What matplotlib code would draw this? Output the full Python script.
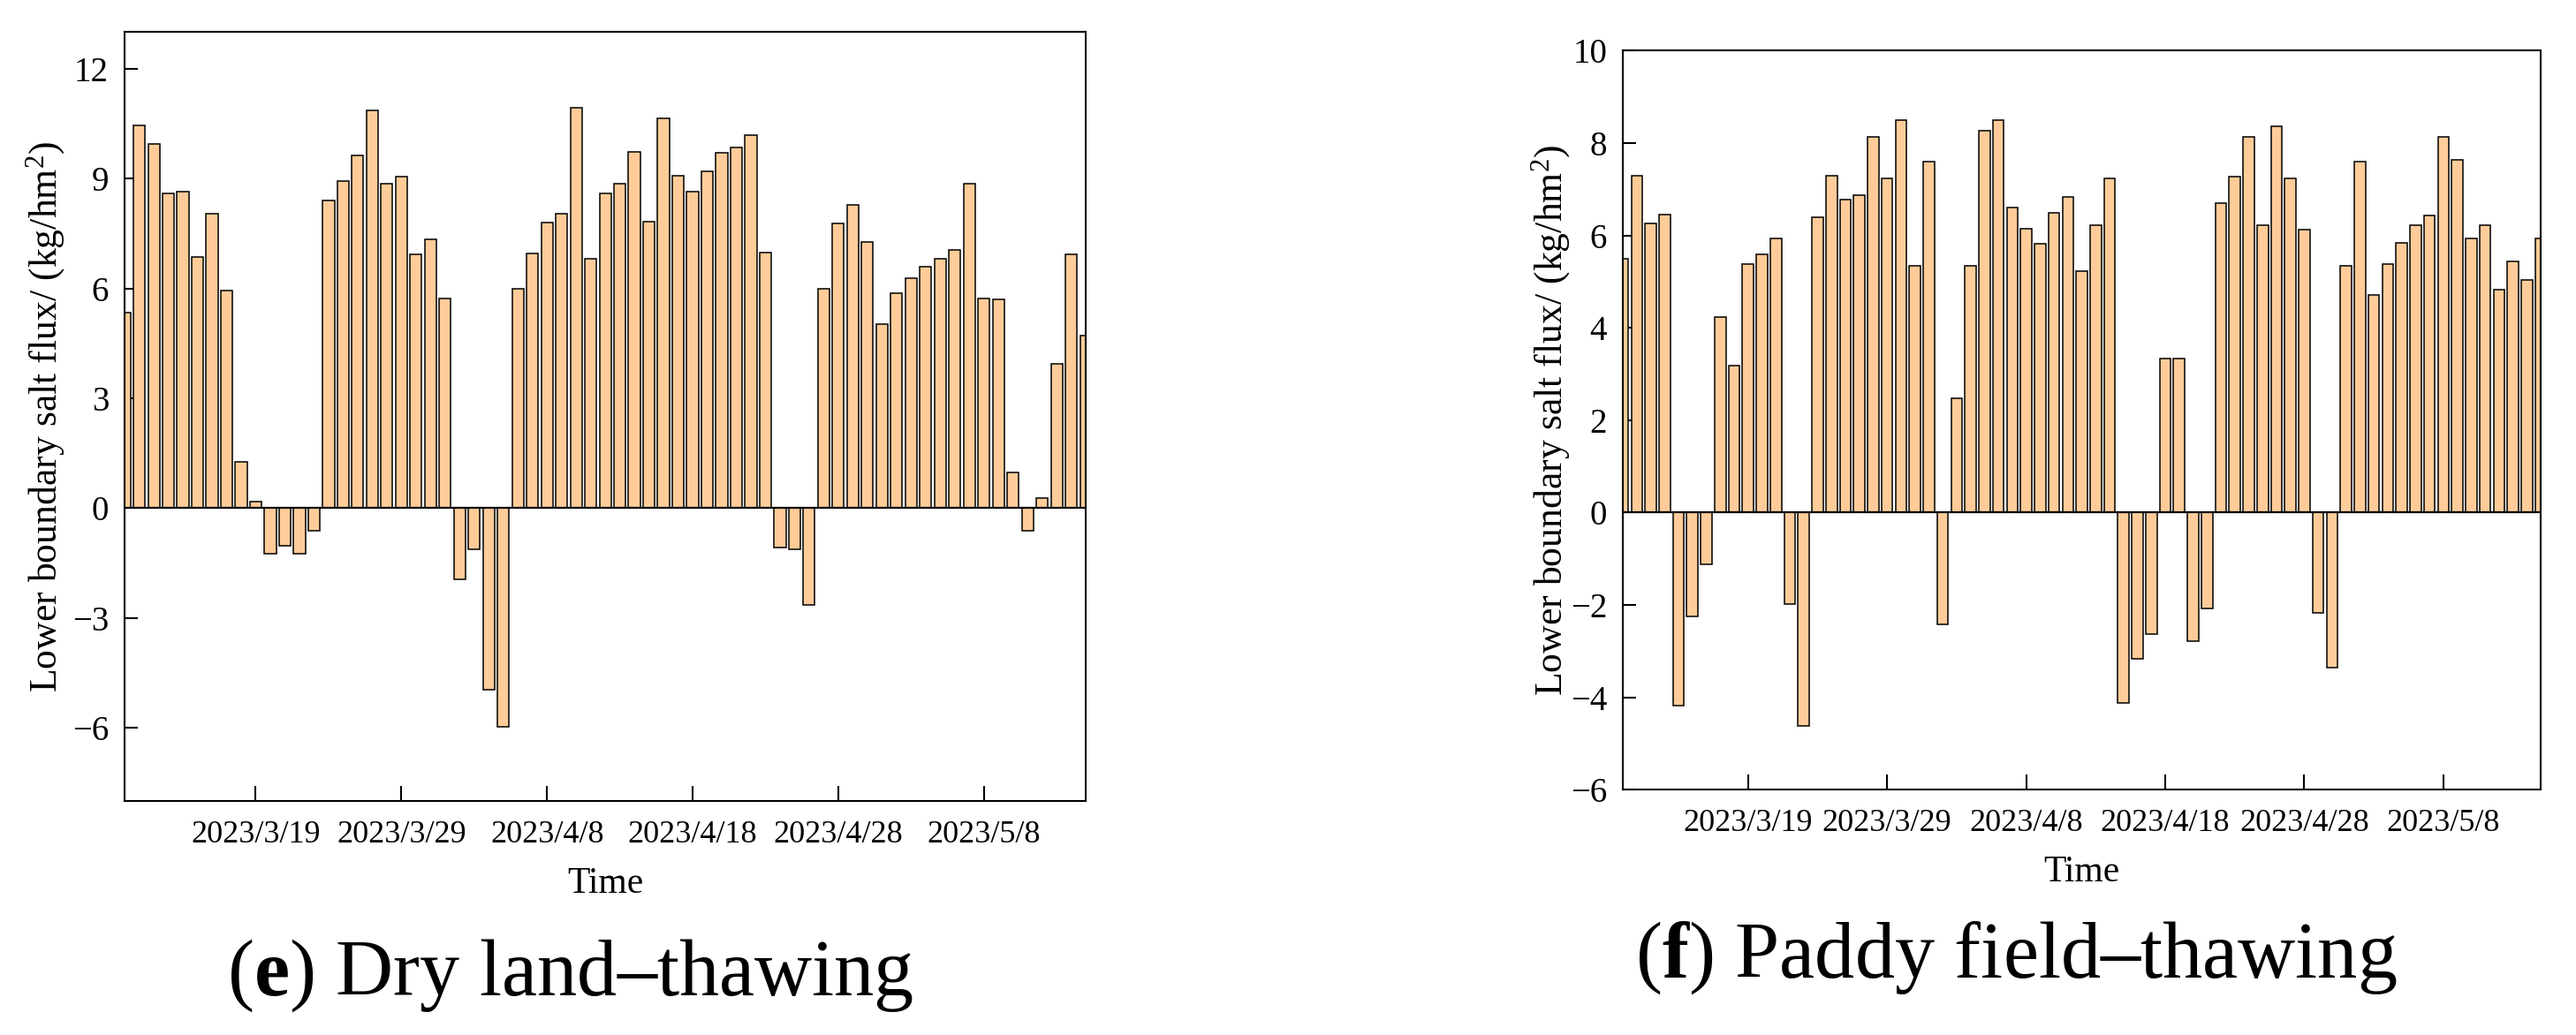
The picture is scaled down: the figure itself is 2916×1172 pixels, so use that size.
# lower boundary salt flux, thawing period, dry land vs paddy field

import datetime as dt
import matplotlib
matplotlib.use("Agg")
import matplotlib.pyplot as plt
import matplotlib.dates as mdates

plt.rcParams['font.family'] = ['Liberation Serif', 'DejaVu Serif']
plt.rcParams['mathtext.fontset'] = 'custom'
plt.rcParams['mathtext.rm'] = 'Liberation Serif'
plt.rcParams['mathtext.it'] = 'Liberation Serif:italic'
plt.rcParams['mathtext.bf'] = 'Liberation Serif:bold'

# daily values, 2023/3/10 .. 2023/5/15
start_date = dt.date(2023, 3, 10)
n_days = 67
dates = [start_date + dt.timedelta(days=i) for i in range(n_days)]

dry_flux = [5.35, 10.45, 9.95, 8.6, 8.64, 6.85, 8.05, 5.95, 1.27, 0.17,
            -1.24, -1.03, -1.24, -0.62, 8.39, 8.94, 9.63, 10.85, 8.85, 9.05,
            6.94, 7.35, 5.72, -1.94, -1.13, -4.96, -5.96, 5.98, 6.96, 7.8,
            8.04, 10.93, 6.8, 8.6, 8.85, 9.74, 7.83, 10.64, 9.08, 8.64,
            9.2, 9.7, 9.85, 10.18, 6.97, -1.08, -1.13, -2.64, 5.98, 7.78,
            8.27, 7.27, 5.02, 5.86, 6.28, 6.59, 6.8, 7.05, 8.86, 5.72,
            5.71, 0.98, -0.62, 0.28, 3.93, 6.93, 4.72]

paddy_flux = [5.49, 7.29, 6.27, 6.46, -4.17, -2.24, -1.12, 4.24, 3.19, 5.38,
              5.6, 5.93, -1.98, -4.62, 6.4, 7.29, 6.77, 6.87, 8.14, 7.24,
              8.5, 5.34, 7.59, -2.42, 2.47, 5.35, 8.27, 8.49, 6.61, 6.15,
              5.82, 6.49, 6.84, 5.22, 6.23, 7.24, -4.12, -3.16, -2.63, 3.34,
              3.34, -2.79, -2.07, 6.7, 7.27, 8.14, 6.23, 8.36, 7.24, 6.13,
              -2.17, -3.36, 5.34, 7.59, 4.72, 5.39, 5.84, 6.23, 6.44, 8.14,
              7.64, 5.93, 6.23, 4.82, 5.43, 5.04, 5.93]

tick_dates = [dt.date(2023, 3, 19), dt.date(2023, 3, 29), dt.date(2023, 4, 8),
              dt.date(2023, 4, 18), dt.date(2023, 4, 28), dt.date(2023, 5, 8)]
tick_labels = ["2023/3/19", "2023/3/29", "2023/4/8", "2023/4/18", "2023/4/28", "2023/5/8"]

dry_yticks = [-6, -3, 0, 3, 6, 9, 12]
paddy_yticks = [-6, -4, -2, 0, 2, 4, 6, 8, 10]

bar_color = '#FFCC99'
ylab = r"Lower boundary salt flux/ (kg/hm$^2$)"

fig = plt.figure(figsize=(29.16, 11.72), dpi=100)
ax1 = fig.add_axes([0.0484, 0.226, 0.3731, 0.743])
ax2 = fig.add_axes([0.630, 0.237, 0.3563, 0.714])


def draw_panel(ax, vals, yticks, ylim, lab_x):
    ax.bar(dates, vals, width=0.8, color=bar_color, edgecolor='black', linewidth=1.1, zorder=2)
    ax.axhline(0, color='black', lw=1.6, zorder=3)
    ax.set_xlim(dates[0], dates[-1])
    ax.set_ylim(*ylim)
    ax.set_xticks(tick_dates)
    ax.set_xticklabels(tick_labels)
    ax.set_yticks(yticks)
    ax.tick_params(axis='x', direction='in', length=12, width=1.5, pad=16, labelsize=26,
                   top=False)
    ax.tick_params(axis='y', direction='in', length=11, width=1.5, pad=13, labelsize=28,
                   right=False)
    for s in ax.spines.values():
        s.set_linewidth(1.5)
    ax.set_ylabel(ylab, fontsize=31.5)
    ax.yaxis.set_label_coords(lab_x, 0.5)
    ax.set_xlabel("Time", fontsize=30, labelpad=14)


draw_panel(ax1, dry_flux, dry_yticks, (-8, 13), -0.060)
draw_panel(ax2, paddy_flux, paddy_yticks, (-6, 10), -0.055)

fig.text(0.2215, 0.039, r"($\mathbf{e}$) Dry land–thawing", fontsize=65, ha='center', va='baseline')
fig.text(0.7826, 0.0555, r"($\mathbf{f}$) Paddy field–thawing", fontsize=65, ha='center', va='baseline')

fig.savefig('out.png', dpi=100)
